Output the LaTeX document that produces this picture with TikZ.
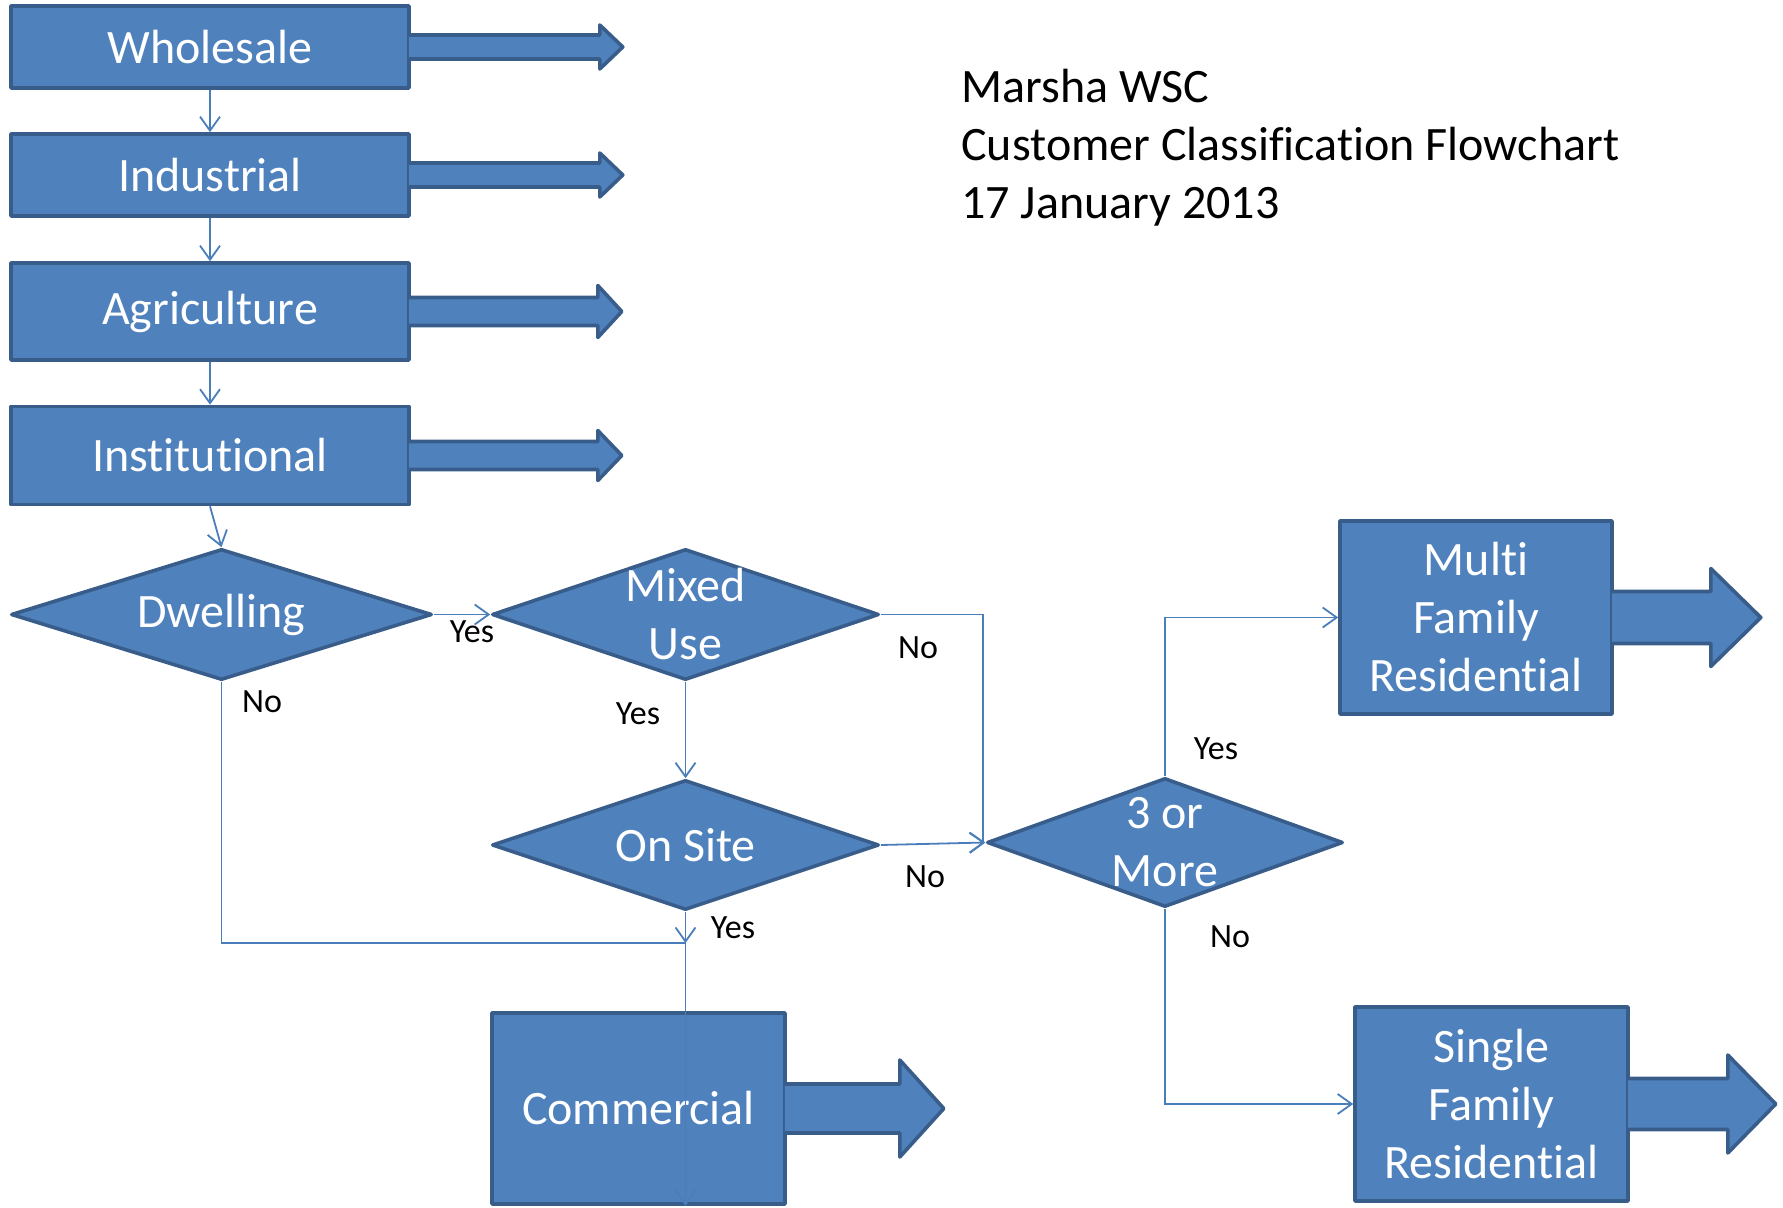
\documentclass[tikz,border=0pt]{standalone}
\usepackage{fontspec}
\setmainfont{Carlito}[Ligatures=NoCommon]
\usetikzlibrary{positioning}
\usetikzlibrary{calc}
\usetikzlibrary{arrows.meta}
\usetikzlibrary{shapes.geometric}
\definecolor{boxblue}{HTML}{4F81BD}
\definecolor{edgeblue}{HTML}{385D8A}
\definecolor{lineblue}{HTML}{4A7EBB}
\tikzset{
	catbox/.style={rectangle,fill=boxblue,draw=edgeblue,line width=1.8pt,line join=round,inner sep=0pt,text=white,font=\fontsize{24}{29}\selectfont,align=center},
	callout/.style={fill=boxblue,draw=edgeblue,line width=1.8pt,line join=round},
	decision/.style={diamond,fill=boxblue,draw=edgeblue,line width=1.8pt,line join=round,inner sep=0pt,label={[dtext]center:#1}},
	dtext/.style={text=white,font=\fontsize{24}{29}\selectfont,align=center},
	wire/.style={draw=lineblue,line width=0.9pt},
	conn/.style={wire,-{Straight Barb[length=7pt,width=10pt]}},
	ans/.style={font=\fontsize{17}{20}\selectfont,inner sep=0pt},
	title/.style={font=\fontsize{24}{29}\selectfont,align=left,inner sep=0pt},
}
% arrow out of a box: node, shaft half, head half, shaft length, head length
\newcommand{\outarrow}[5]{%
	\path[callout] ($(#1.east)+(-2,#2)$) -- ++(#4+2,0) -- ++(0,#3-#2) -- ++(#5,-#3) -- ++(-#5,-#3) -- ++(0,#3-#2) -- ++(-#4-2,0);
}

\begin{document}
\begin{tikzpicture}[x=0.5pt,y=0.5pt]
			\useasboundingbox (0,0) rectangle (1783,-1208);

			% category boxes on the left.....................
			\node[catbox,minimum width=199pt,minimum height=41pt] (whole) at (210,-47) {Wholesale};
			\outarrow{whole}{12}{22}{189}{23}
			\node[catbox,minimum width=199pt,minimum height=41pt] (indus) at (210,-175) {Industrial};
			\outarrow{indus}{12}{22}{189}{23}
			\node[catbox,minimum width=199pt,minimum height=48.5pt] (agri) at (210,-311.5) {Agriculture};
			\outarrow{agri}{14}{26}{187}{24}
			\node[catbox,minimum width=199pt,minimum height=49pt] (inst) at (210,-455.5) {Institutional};
			\outarrow{inst}{14}{25}{187}{24}

			% decisions.......................
			\node[decision=Dwelling,minimum width=210.5pt,minimum height=65.5pt] (dwell) at (221.5,-614.5) {};
			\node[decision={Mixed\\Use},minimum width=193.5pt,minimum height=65.5pt] (mixed) at (685.5,-614.5) {};
			\node[decision={On Site},minimum width=193.5pt,minimum height=65pt] (onsite) at (685.5,-845) {};
			\node[decision={3 or\\More},minimum width=178pt,minimum height=64.5pt] (three) at (1165,-842.5) {};

			% end boxes.......................
			\node[catbox,minimum width=146.5pt,minimum height=95.5pt] (comm) at (638.5,-1108.5) {Commercial};
			\outarrow{comm}{24.5}{48.5}{113}{44}
			\node[catbox,minimum width=136pt,minimum height=96.5pt] (multi) at (1476,-617.5) {Multi\\Family\\Residential};
			\outarrow{multi}{26}{49}{97}{50}
			\node[catbox,minimum width=136.5pt,minimum height=97pt] (single) at (1491.5,-1104) {Single\\Family\\Residential};
			\outarrow{single}{25.5}{49}{98}{48}

			% title.......................
			\node[title,anchor=west] (head) at (961,-148) {Marsha WSC\\Customer Classification Flowchart\\17 January 2013};

			% connectors.......................
			\draw[conn] (whole) -- (indus);
			\draw[conn] (indus) -- (agri);
			\draw[conn] (agri) -- (inst);
			\draw[conn] (inst.south) -- (dwell.north);
			\draw[conn] (dwell.east) -- (mixed.west);
			\draw[conn] (mixed.south) -- (onsite.north);
			\draw[conn] (mixed.east) -| ([xshift=-1pt]three.west) -- (three.west);
			\draw[conn] (onsite.east) -- (three.west);
			\coordinate (join) at (685.5,-943);
			\draw[wire] (dwell.south) |- (join);
			\draw[conn] (onsite.south) -- (join);
			\draw[conn] (join) -- (join |- comm.south);
			\draw[conn] (three.north) |- (multi.west);
			\draw[conn] (three.south) |- (single.west);

			% yes / no.......................
			\node[ans] (y1) at (472,-632) {Yes};
			\node[ans] (n1) at (262,-702) {No};
			\node[ans] (y2) at (638,-714) {Yes};
			\node[ans] (n2) at (918,-648) {No};
			\node[ans] (n3) at (925,-877) {No};
			\node[ans] (y3) at (733,-928) {Yes};
			\node[ans] (y4) at (1216,-749) {Yes};
			\node[ans] (n4) at (1230,-937) {No};

		\end{tikzpicture}
\end{document}
